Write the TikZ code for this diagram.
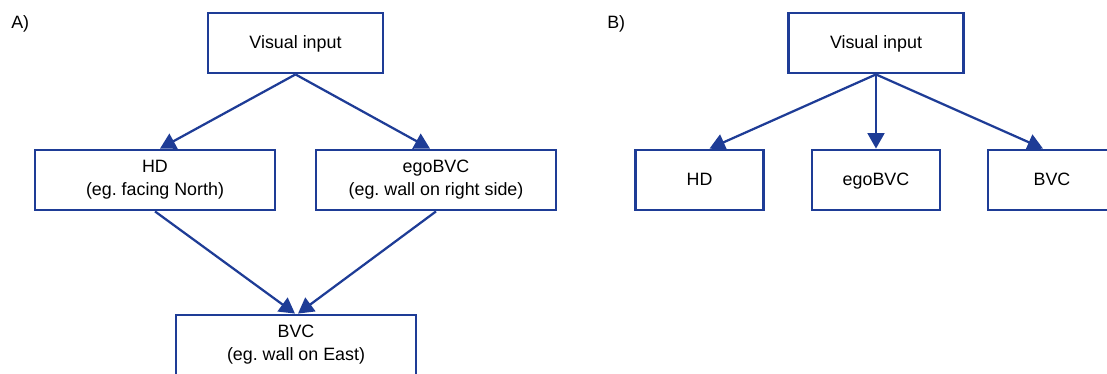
\documentclass[tikz,border=0pt]{standalone}
\usepackage{fontspec}
\setmainfont{Liberation Sans}
\usetikzlibrary{arrows.meta,calc}
\definecolor{boxblue}{RGB}{30,60,150}
\frenchspacing
\tikzset{
  box/.style={draw=boxblue, line width=2pt, minimum height=1.5cm, align=center, inner sep=2pt},
  oneline/.style={text height=9.1pt, text depth=1.2pt},
  topbox/.style={box, oneline, minimum width=4.375cm},
  widebox/.style={box, minimum width=6cm},
  smallbox/.style={box, oneline, minimum width=3.2cm},
  link/.style={draw=boxblue, line width=1.6pt, -{Triangle[length=11pt,width=12pt]}},
  panel/.style={anchor=base west, inner sep=0pt},
}
\begin{document}
\begin{tikzpicture}[x=0.025cm, y=-0.025cm, font=\fontsize{12.7}{16.4}\selectfont]
    \useasboundingbox (0,0) rectangle (1107,374);

    % panel A
    \node[panel] (labA) at (11,29) {A)};
    \node[topbox] (visA) at (295.5,43) {Visual input};
    \node[widebox] (hdA) at (155,180) {HD\\(eg. facing North)};
    \node[widebox] (egoA) at (436,180) {egoBVC\\(eg. wall on right side)};
    \node[widebox] (bvcA) at (296,345) {BVC\\(eg. wall on East)};

    \draw[link] (visA.south) -- ($(hdA.north)+(5,0)$);
    \draw[link] (visA.south) -- ($(egoA.north)+(-6,0)$);
    \draw[link] (hdA.south) -- ($(bvcA.north)+(-1,0)$);
    \draw[link] (egoA.south) -- ($(bvcA.north)+(2,0)$);

    % panel B
    \node[panel] (labB) at (607,29) {B)};
    \node[topbox] (visB) at (876,43) {Visual input};
    \node[smallbox] (hdB) at (699.5,180) {HD};
    \node[smallbox] (egoB) at (876,180) {egoBVC};
    \node[smallbox] (bvcB) at (1052,180) {BVC};

    \draw[link] (visB.south) -- ($(hdB.north)+(10,0)$);
    \draw[link] (visB.south) -- (egoB.north);
    \draw[link] (visB.south) -- ($(bvcB.north)+(-9,0)$);
\end{tikzpicture}
\end{document}
